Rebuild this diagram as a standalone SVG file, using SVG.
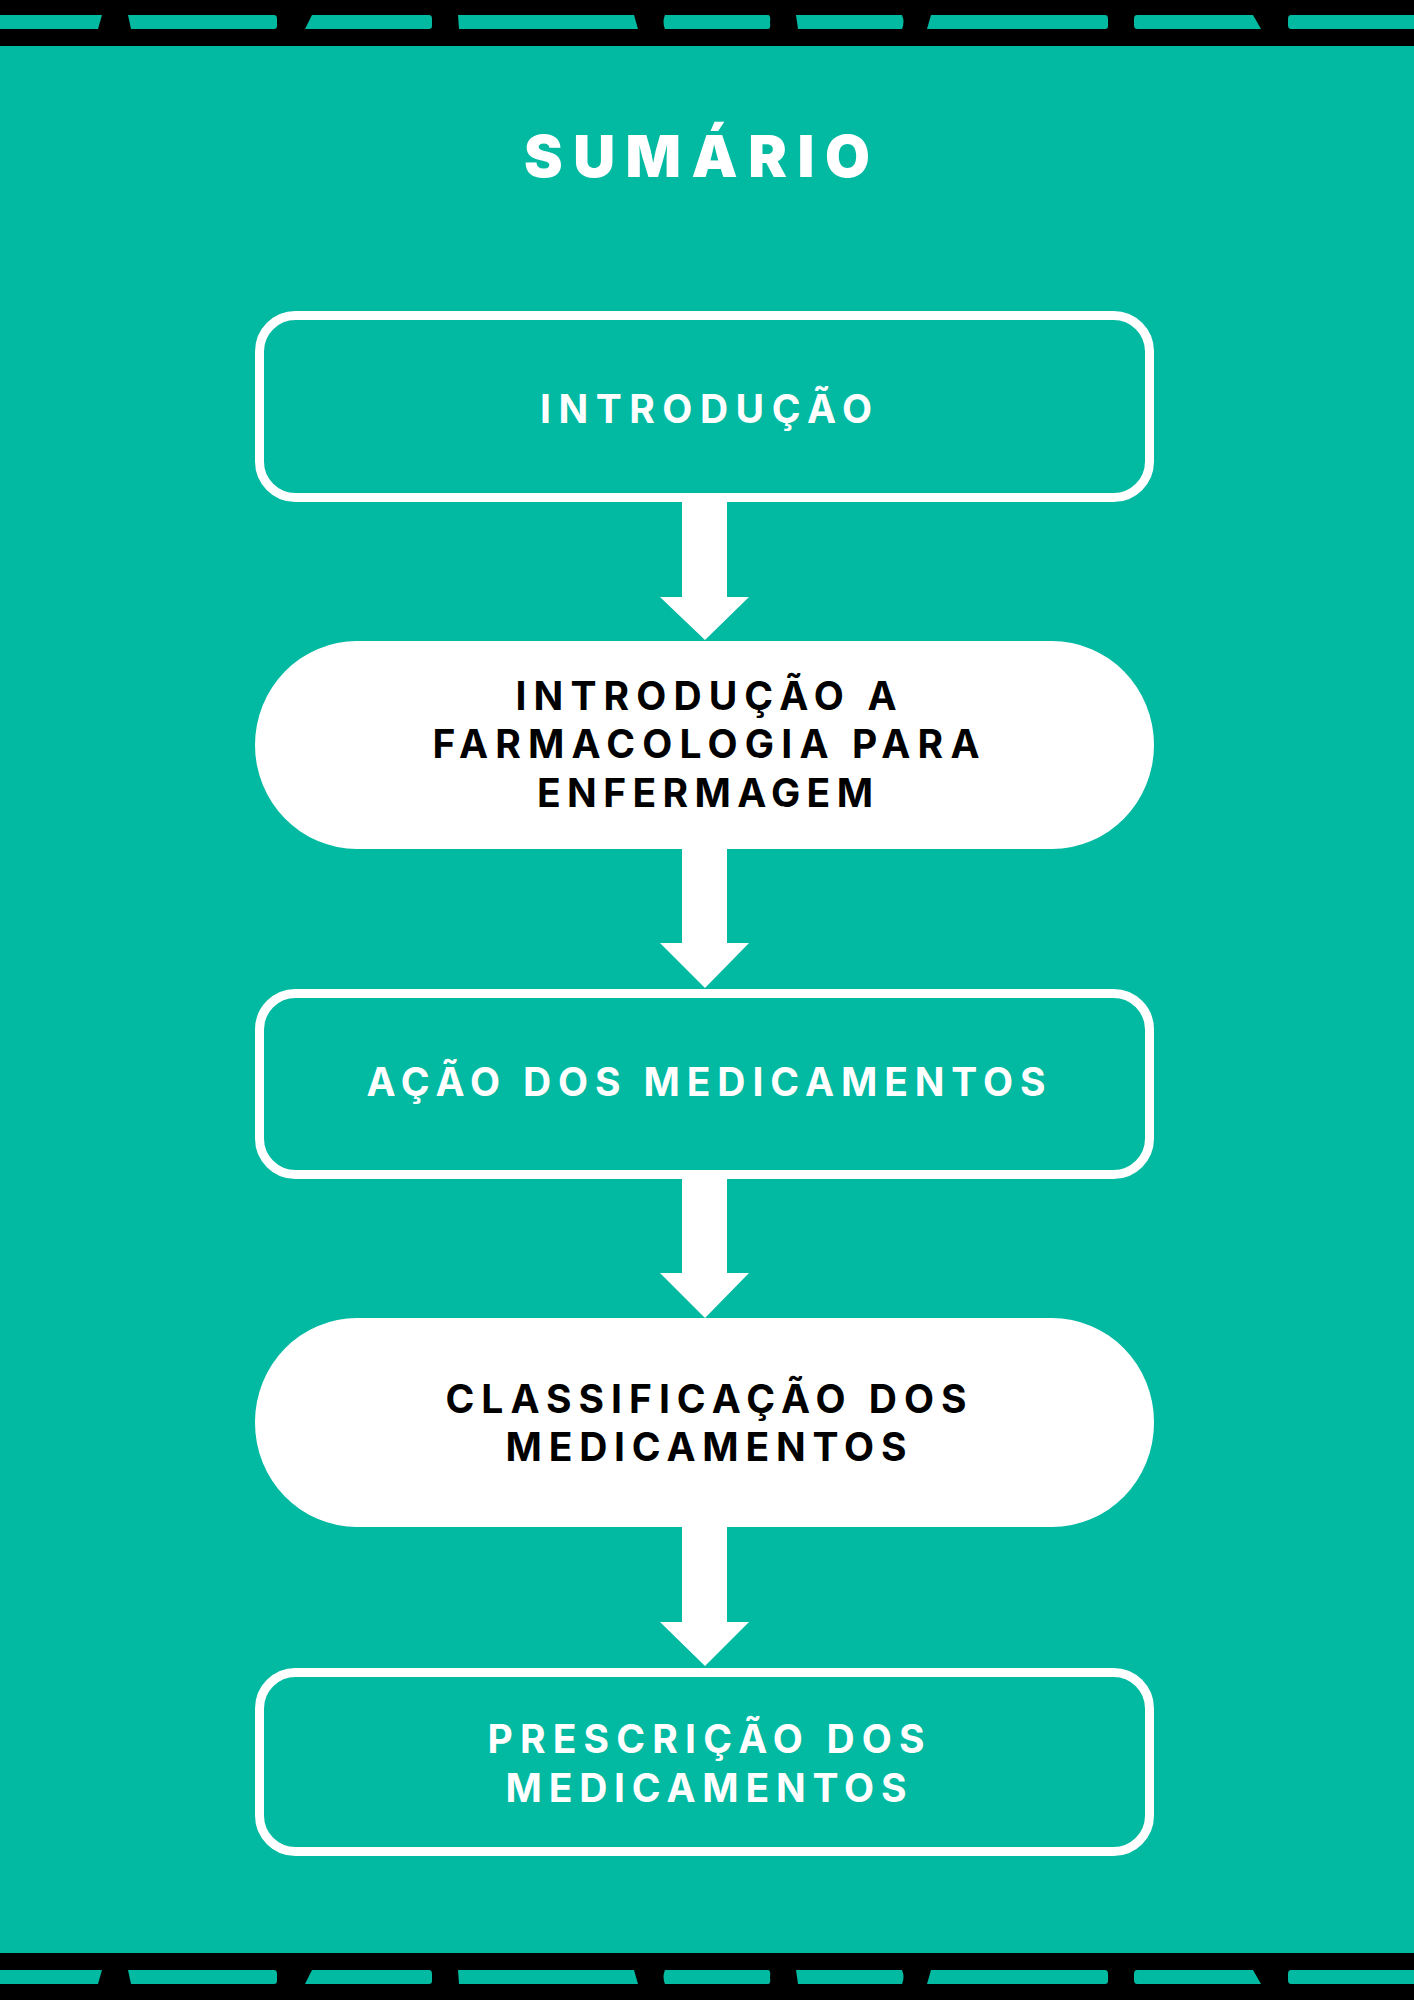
<svg xmlns="http://www.w3.org/2000/svg" width="1414" height="2000" viewBox="0 0 1414 2000">
  <style>
    .bg { fill: #02B9A1; }
    .band { fill: #000000; }
    .dash { fill: #02B9A1; }
    .outline { fill: none; stroke: #FFFFFF; stroke-width: 9; }
    .pill { fill: #FFFFFF; }
    .arrow { fill: #FFFFFF; }
    .t { font-family: Inter, "Liberation Sans", "DejaVu Sans", sans-serif; font-weight: 700; font-size: 39px; text-anchor: middle; }
    .tw { fill: #FFFFFF; }
    .tb { fill: #000000; }
    .title { font-family: Inter, "Liberation Sans", "DejaVu Sans", sans-serif; font-weight: 900; font-size: 58px; fill: #FFFFFF; text-anchor: middle; }
  </style>
  <defs>
    <g id="dashes">
      <path d="M0,0 H102 L98,14 H0 Z"/>
      <path d="M128,0 H274 Q277,0 277,4 V11 Q277,14 274,14 H131 Z"/>
      <path d="M312,0 H429 Q432,0 432,4 V11 Q432,14 429,14 H305 Z"/>
      <path d="M458,0 H634 L638,14 H459 Z"/>
      <path d="M665,0 H768 Q771,0 770,7 Q771,14 768,14 H665 Q662,7 665,0 Z"/>
      <path d="M796,0 H902 Q905,7 902,14 H798 Z"/>
      <path d="M931,0 H1105 Q1108,0 1108,4 V11 Q1108,14 1105,14 H927 Z"/>
      <path d="M1137,0 H1253 L1261,14 H1137 Q1134,14 1134,10 V4 Q1134,0 1137,0 Z"/>
      <path d="M1291,0 H1414 V14 H1291 Q1288,14 1288,10 V4 Q1288,0 1291,0 Z"/>
    </g>
  </defs>

  <rect class="bg" x="0" y="0" width="1414" height="2000"/>

  <g id="top-border">
    <rect class="band" x="0" y="0" width="1414" height="46"/>
    <use href="#dashes" class="dash" x="0" y="15"/>
  </g>
  <g id="bottom-border">
    <rect class="band" x="0" y="1953" width="1414" height="47"/>
    <use href="#dashes" class="dash" x="0" y="1970"/>
  </g>

  <g id="title">
    <text class="title" x="697" y="177" textLength="346" lengthAdjust="spacing">SUMÁRIO</text>
  </g>

  <g id="connectors">
    <path class="arrow" d="M682,502 H727 V597 H749 L705,640 L660,597 H682 Z"/>
    <path class="arrow" d="M682,849 H727 V943 H749 L705,988 L660,943 H682 Z"/>
    <path class="arrow" d="M682,1179 H727 V1273 H749 L705,1318 L660,1273 H682 Z"/>
    <path class="arrow" d="M682,1527 H727 V1622 H749 L705,1666 L660,1622 H682 Z"/>
  </g>

  <g id="node-introducao">
    <rect class="outline" x="259.5" y="315.5" width="890" height="182" rx="36" ry="36"/>
    <text class="t tw" x="706" y="423" textLength="332" lengthAdjust="spacing">INTRODUÇÃO</text>
  </g>

  <g id="node-introducao-farmacologia">
    <rect class="pill" x="255" y="641" width="899" height="208" rx="102" ry="104"/>
    <text class="t tb" x="706" y="710" textLength="381" lengthAdjust="spacing">INTRODUÇÃO A</text>
    <text class="t tb" x="706" y="758" textLength="547" lengthAdjust="spacing">FARMACOLOGIA PARA</text>
    <text class="t tb" x="705" y="807" textLength="336" lengthAdjust="spacing">ENFERMAGEM</text>
  </g>

  <g id="node-acao">
    <rect class="outline" x="259.5" y="993.5" width="890" height="181" rx="36" ry="36"/>
    <text class="t tw" x="706" y="1096" textLength="679" lengthAdjust="spacing">AÇÃO DOS MEDICAMENTOS</text>
  </g>

  <g id="node-classificacao">
    <rect class="pill" x="255" y="1318" width="899" height="209" rx="102" ry="104"/>
    <text class="t tb" x="706" y="1413" textLength="521" lengthAdjust="spacing">CLASSIFICAÇÃO DOS</text>
    <text class="t tb" x="706" y="1461" textLength="401" lengthAdjust="spacing">MEDICAMENTOS</text>
  </g>

  <g id="node-prescricao">
    <rect class="outline" x="259.5" y="1672.5" width="890" height="179" rx="36" ry="36"/>
    <text class="t tw" x="706" y="1753" textLength="437" lengthAdjust="spacing">PRESCRIÇÃO DOS</text>
    <text class="t tw" x="706" y="1802" textLength="401" lengthAdjust="spacing">MEDICAMENTOS</text>
  </g>
</svg>
